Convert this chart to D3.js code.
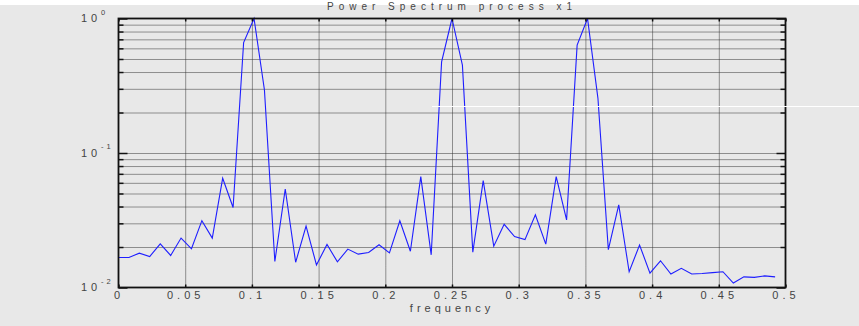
<!DOCTYPE html>
<html>
<head>
<meta charset="utf-8">
<script src="https://d3js.org/d3.v7.min.js"></script>
<title>Power Spectrum process x1</title>
</head>
<style>
body { margin: 0; background: #e8e8e8; }
svg { display: block; }
text { font-family: "Liberation Sans", Arial, sans-serif; fill: #444; }
.grid line { stroke: #333; stroke-width: 1; stroke-dasharray: 1,1; }
.grid .domain { display: none; }
.frame .domain { display: none; }
.frame line { stroke: #111; stroke-width: 1.5; }
</style>
<body>
<svg width="859" height="326"></svg>
</body>
<script>

// frequency bins (cycles / sample)
let freq = [0, .0078, .0156, .0234, .0313, .0391, .0469, .0547, .0625, .0703, .0781, .0859,
  .0938, .1016, .1094, .1172, .125, .1328, .1406, .1484, .1563, .1641, .1719, .1797,
  .1875, .1953, .2031, .2109, .2188, .2266, .2344, .2422, .25, .2578, .2656, .2734,
  .2813, .2891, .2969, .3047, .3125, .3203, .3281, .3359, .3438, .3516, .3594, .3672,
  .375, .3828, .3906, .3984, .4063, .4141, .4219, .4297, .4375, .4453, .4531, .4609,
  .4688, .4766, .4844, .4922];

// normalised power
let power = [0.0167, 0.0167, 0.0180, 0.0170, 0.0211, 0.0173, 0.0233, 0.0194, 0.0314, 0.0233,
  0.0649, 0.0393, 0.663, 1.0, 0.294, 0.0156, 0.054, 0.0154, 0.0286, 0.0147,
  0.0209, 0.0155, 0.0193, 0.0177, 0.0182, 0.0208, 0.0181, 0.0313, 0.0186, 0.0667,
  0.0175, 0.476, 1.0, 0.45, 0.0183, 0.0623, 0.0203, 0.0295, 0.0239, 0.0227,
  0.0347, 0.0210, 0.0667, 0.0318, 0.634, 1.0, 0.255, 0.0191, 0.0411, 0.0131,
  0.0207, 0.0128, 0.0158, 0.0126, 0.0139, 0.0126, 0.0127, 0.0129, 0.0131, 0.0108,
  0.0120, 0.0119, 0.0122, 0.0120];

let xTicks = [0, 0.05, 0.1, 0.15, 0.2, 0.25, 0.3, 0.35, 0.4, 0.45, 0.5];
let xTickLabels = ["0", "0.05", "0.1", "0.15", "0.2", "0.25", "0.3", "0.35", "0.4", "0.45", "0.5"];
let yDecades = [0.01, 0.1, 1];
let yDecadeExps = ["-2", "-1", "0"];
let yMinor = [0.02, 0.03, 0.04, 0.05, 0.06, 0.07, 0.08, 0.09,
  0.2, 0.3, 0.4, 0.5, 0.6, 0.7, 0.8, 0.9];

let pLeft = 118.5, pRight = 785.5, pTop = 18.5, pBottom = 287.5;

let svg = d3.select("svg");

let x = d3.scaleLinear().domain([0, 0.5]).range([pLeft, pRight]);
let y = d3.scaleLog().domain([0.01, 1]).range([pBottom, pTop]);

// background, with the thin white strip on top
svg.append("rect").attr("width", 859).attr("height", 326).attr("fill", "#e8e8e8");
svg.append("rect").attr("width", 859).attr("height", 5).attr("fill", "#fff");

// dotted grid
svg.append("g").attr("class", "grid")
  .attr("transform", "translate(0," + pBottom + ")")
  .call(d3.axisBottom(x).tickValues(xTicks.slice(1, -1)).tickSize(-(pBottom - pTop)).tickFormat(""));
svg.append("g").attr("class", "grid")
  .attr("transform", "translate(" + pLeft + ",0)")
  .call(d3.axisLeft(y).tickValues(yMinor.concat([0.1])).tickSize(-(pRight - pLeft)).tickFormat(""));

// the spectrum
let line = d3.line()
  .x(function(d, i) { return x(freq[i]); })
  .y(function(d) { return y(d); });

svg.append("path")
  .datum(power)
  .attr("d", line)
  .attr("fill", "none")
  .attr("stroke", "#1e1eff")
  .attr("stroke-width", 1.1);

// frame + inward ticks
function frame(g) { g.attr("class", "frame"); }
svg.append("g").call(frame).attr("transform", "translate(" + pLeft + ",0)")
  .call(d3.axisLeft(y).tickValues(yMinor).tickSize(-5).tickFormat(""));
svg.append("g").call(frame).attr("transform", "translate(" + pLeft + ",0)")
  .call(d3.axisLeft(y).tickValues(yDecades).tickSize(-9).tickFormat(""));
svg.append("g").call(frame).attr("transform", "translate(" + pRight + ",0)")
  .call(d3.axisRight(y).tickValues(yMinor).tickSize(-5).tickFormat(""));
svg.append("g").call(frame).attr("transform", "translate(" + pRight + ",0)")
  .call(d3.axisRight(y).tickValues(yDecades).tickSize(-9).tickFormat(""));
svg.append("g").call(frame).attr("transform", "translate(0," + pTop + ")")
  .call(d3.axisTop(x).tickValues(xTicks).tickSize(-3).tickFormat(""));

let xAxis = svg.append("g").call(frame).attr("transform", "translate(0," + pBottom + ")")
  .call(d3.axisBottom(x).tickValues(xTicks).tickSize(-3).tickPadding(4)
    .tickFormat(function(d, i) { return xTickLabels[i]; }));
xAxis.selectAll("text")
  .attr("font-size", 11)
  .attr("letter-spacing", 4)
  .attr("fill", "#444");

svg.append("rect")
  .attr("x", pLeft).attr("y", pTop)
  .attr("width", pRight - pLeft).attr("height", pBottom - pTop)
  .attr("fill", "none").attr("stroke", "#111").attr("stroke-width", 1.8);

// y labels: 10 with exponent
yDecades.forEach(function(d, i) {
  svg.append("text")
    .attr("x", 81).attr("y", y(d) + 3.5)
    .attr("font-size", 11).attr("letter-spacing", 4)
    .text("10");
  svg.append("text")
    .attr("x", 101).attr("y", y(d) - 4)
    .attr("font-size", 7.5).attr("letter-spacing", 3)
    .text(yDecadeExps[i]);
});

// title and x label
svg.append("text")
  .attr("x", (pLeft + pRight) / 2).attr("y", 9.5)
  .attr("text-anchor", "middle")
  .attr("font-size", 10).attr("letter-spacing", 5).attr("fill", "#555")
  .text("Power Spectrum process x1");

svg.append("text")
  .attr("x", (pLeft + pRight) / 2).attr("y", 312)
  .attr("text-anchor", "middle")
  .attr("font-size", 11).attr("letter-spacing", 4)
  .text("frequency");

// stray white rule across the right half
svg.append("line")
  .attr("x1", 432).attr("x2", 859)
  .attr("y1", 106.5).attr("y2", 106.5)
  .attr("stroke", "#fff").attr("stroke-width", 1);

</script>
</html>
